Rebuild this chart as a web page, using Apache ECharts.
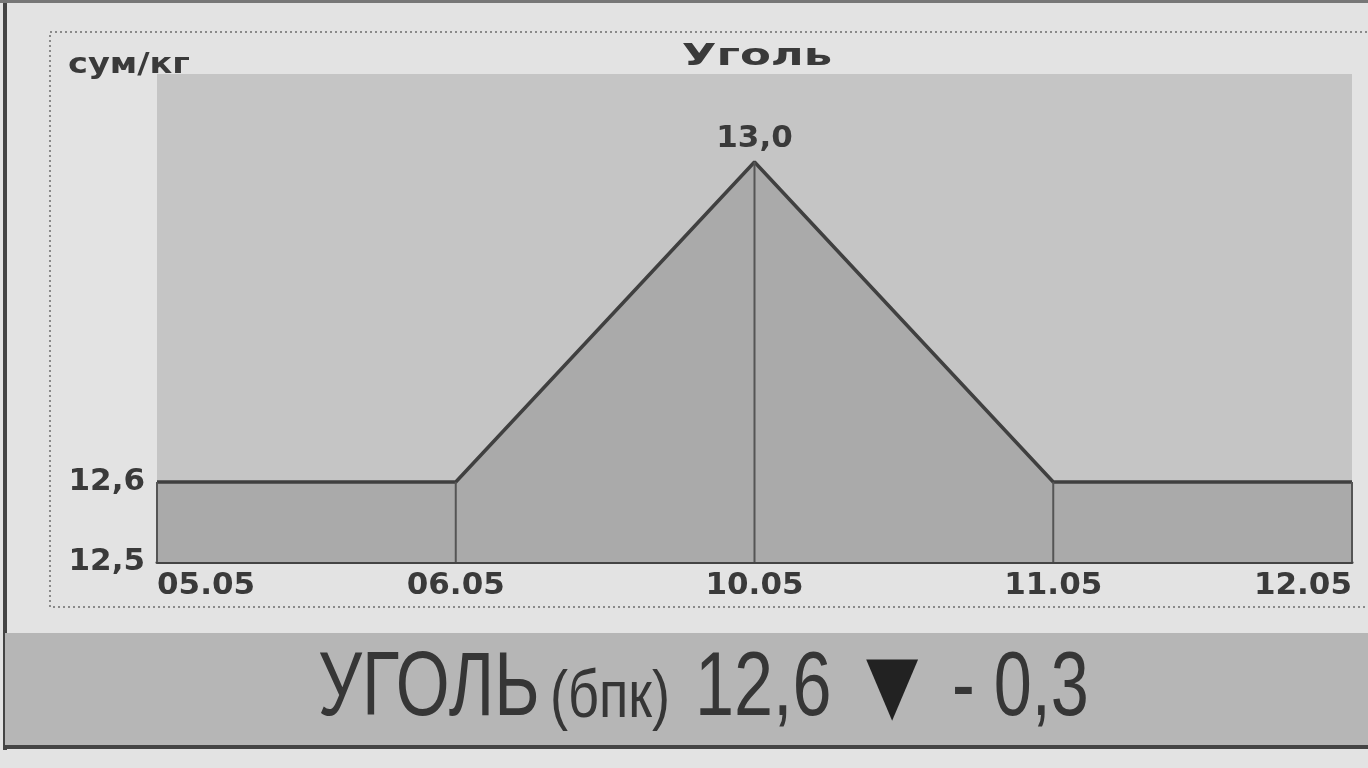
<!DOCTYPE html>
<html><head><meta charset="utf-8">
<script src="https://cdn.jsdelivr.net/npm/echarts@6/dist/echarts.min.js"></script>
<style>html,body{margin:0;padding:0;background:#e2e2e2;}#c{width:1368px;height:768px;}</style>
</head><body><div id="c"></div>
<script>
const categories = ['05.05', '06.05', '10.05', '11.05', '12.05'];
const prices = [12.6, 12.6, 13.0, 12.6, 12.6];
const yTicks = [12.5, 12.6];
const titleText = 'Уголь';
const unitText = 'сум/кг';
const bannerName = 'УГОЛЬ';
const bannerGrade = '(бпк)';
const bannerPrice = '12,6';
const bannerArrow = '▼';
const bannerChange = '- 0,3';
const peakIndex = prices.indexOf(Math.max(...prices));

const fmt = v => v.toFixed(1).replace('.', ',');
const chart = echarts.init(document.getElementById('c'), null, {renderer: 'canvas'});
const labelFont = {fontFamily: 'DejaVu Sans', fontWeight: 'bold', fontSize: 31, color: '#3a3a3a'};
const narrow = 'Liberation Sans';

chart.setOption({
  backgroundColor: '#e3e3e3',
  animation: false,
  grid: {left: 157, right: 16, top: 74, bottom: 206, show: true, backgroundColor: '#c5c5c5', borderWidth: 0},
  xAxis: {
    type: 'category', data: categories, boundaryGap: false,
    axisLine: {show: true, lineStyle: {color: '#444', width: 3}},
    axisTick: {show: false},
    axisLabel: Object.assign({margin: 8, alignMinLabel: 'left', alignMaxLabel: 'right', interval: 0}, labelFont),
    splitLine: {show: false}
  },
  yAxis: {
    type: 'value', min: 12.5, max: 13.11, interval: 0.1,
    axisLine: {show: false}, axisTick: {show: false}, splitLine: {show: false},
    axisLabel: Object.assign({margin: 12, showMaxLabel: false,
      formatter: v => yTicks.some(t => Math.abs(t - v) < 1e-6) ? fmt(v) : ''}, labelFont)
  },
  series: [
    {
      type: 'line', data: prices, symbol: 'none',
      lineStyle: {color: '#404040', width: 3.5},
      areaStyle: {color: '#aaaaaa', opacity: 1, origin: 'start'},
      z: 2
    },
    {
      type: 'bar', data: prices, barWidth: 2, itemStyle: {color: '#555'}, z: 3, silent: true,
      label: Object.assign({show: true, position: 'top', distance: 8,
        formatter: p => p.dataIndex === peakIndex ? fmt(p.value) : ''}, labelFont)
    }
  ],
  graphic: [
    {type: 'rect', shape: {x: 50, y: 32, width: 1330, height: 575}, style: {fill: 'none', stroke: '#8a8a8a', lineWidth: 2, lineDash: [2, 3]}, z: -1},
    {type: 'rect', shape: {x: 3, y: 0, width: 4, height: 750}, style: {fill: '#444'}},
    {type: 'rect', shape: {x: 0, y: 0, width: 1368, height: 3}, style: {fill: '#777'}},
    {type: 'rect', shape: {x: 5, y: 633, width: 1363, height: 113}, style: {fill: '#b6b6b6'}},
    {type: 'rect', shape: {x: 5, y: 745, width: 1363, height: 4}, style: {fill: '#444'}},
    {type: 'text', x: 757, y: 57, scaleX: 1.5, style: {text: titleText, font: 'bold 30px "DejaVu Sans"', fill: '#3a3a3a', align: 'center', verticalAlign: 'middle'}},
    {type: 'text', x: 68, y: 66, scaleX: 1.2, style: {text: unitText, font: 'bold 28px "DejaVu Sans"', fill: '#3a3a3a', align: 'left', verticalAlign: 'middle'}},
    {type: 'text', x: 318, y: 690, scaleX: 0.77, style: {text: bannerName, font: '90px "' + narrow + '"', fill: '#363636', align: 'left', verticalAlign: 'middle'}},
    {type: 'text', x: 550, y: 699, scaleX: 0.82, style: {text: bannerGrade, font: '66px "' + narrow + '"', fill: '#363636', align: 'left', verticalAlign: 'middle'}},
    {type: 'text', x: 695, y: 690, scaleX: 0.78, style: {text: bannerPrice, font: '90px "' + narrow + '"', fill: '#363636', align: 'left', verticalAlign: 'middle'}},
    {type: 'text', x: 866, y: 690, scaleX: 0.85, style: {text: bannerArrow, font: '80px "DejaVu Sans"', fill: '#222', align: 'left', verticalAlign: 'middle'}},
    {type: 'text', x: 952, y: 690, scaleX: 0.76, style: {text: bannerChange, font: '90px "' + narrow + '"', fill: '#363636', align: 'left', verticalAlign: 'middle'}}
  ]
});
</script></body></html>
